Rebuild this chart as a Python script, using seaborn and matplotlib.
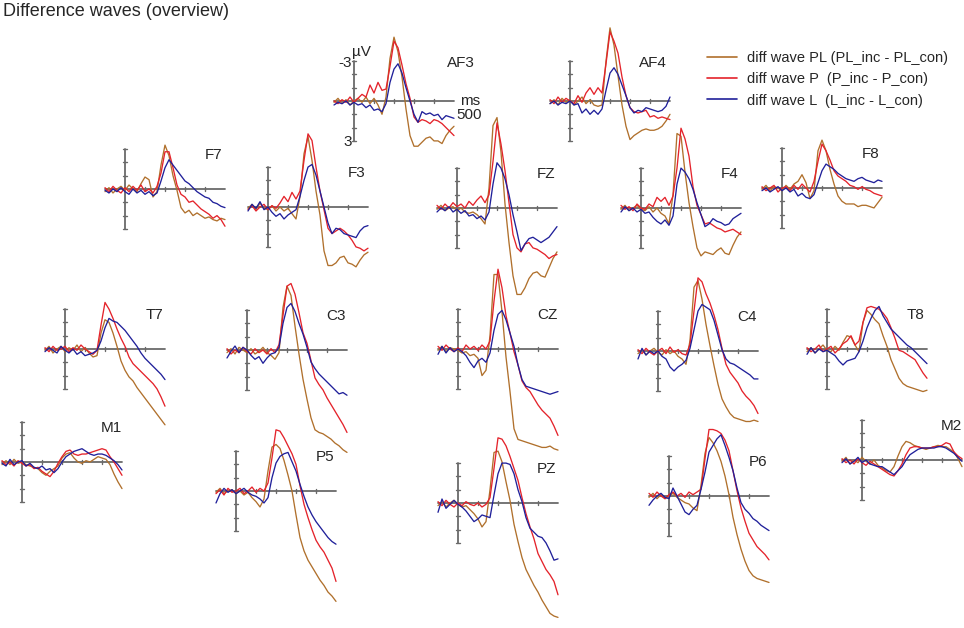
import pandas as pd
import matplotlib
matplotlib.use("Agg")
import matplotlib.pyplot as plt
import seaborn as sns
from matplotlib.lines import Line2D

sns.set_theme(style="white")
plt.rcParams['font.family'] = ['Liberation Sans', 'DejaVu Sans']

# time axis (ms), one sample every 20 ms
times = list(range(-100, 520, 20))
wave_names = ["diff wave PL (PL_inc - PL_con)",
              "diff wave P  (P_inc - P_con)",
              "diff wave L  (L_inc - L_con)"]

# amplitudes in µV (negative = up)
af3_pl = [0.1,-0.2,0.2,-0.1,0.3,0.0,-0.2,0.1,-0.3,0.2,-0.2,0.3,1.0,-0.3,-3.2,-4.8,-3.7,-1.8,0.6,2.6,3.4,3.4,3.1,2.8,2.7,3.0,3.0,3.2,2.6,2.2,1.9]
af3_p = [0.0,0.2,-0.1,0.1,-0.3,0.1,-0.2,-0.5,-0.3,-1.2,-0.6,-1.4,-0.8,-0.9,-2.6,-4.5,-4.0,-2.7,-1.3,-0.2,1.2,1.6,1.4,1.5,1.7,1.4,1.5,1.7,2.0,2.3,2.6]
af3_l = [0.3,0.1,0.2,0.0,0.3,0.1,0.3,0.2,0.5,0.3,0.7,0.6,0.8,0.2,-1.4,-2.4,-2.8,-2.1,-1.0,0.0,1.0,1.6,0.8,1.0,0.9,1.1,1.0,1.4,1.1,1.2,1.3]

af4_pl = [0.2,-0.1,0.3,-0.2,0.1,-0.1,0.3,0.0,-0.3,0.2,-0.1,0.3,0.4,0.3,-3.0,-5.5,-4.2,-1.9,0.3,1.9,2.9,2.6,2.4,2.2,2.1,2.2,2.2,2.1,1.9,1.5,1.0]
af4_p = [-0.1,0.2,-0.3,0.1,-0.2,0.0,0.2,-0.4,0.1,-0.6,-1.0,-0.5,-1.0,-0.6,-2.8,-5.2,-4.5,-3.6,-1.8,-0.4,0.5,0.8,0.9,0.8,0.7,1.2,1.1,1.3,1.2,1.3,1.4]
af4_l = [0.2,0.0,0.3,0.1,0.2,0.0,0.3,0.2,0.9,0.6,1.0,0.7,1.0,0.6,-0.8,-2.1,-2.5,-2.0,-1.2,-0.4,0.5,0.9,0.7,0.8,0.5,0.6,0.7,0.8,0.7,0.4,-0.3]

f7_pl = [0.2,-0.1,0.3,0.0,-0.2,0.1,-0.3,0.0,0.2,-0.4,-0.9,-0.7,0.6,0.2,-1.8,-3.3,-2.5,-1.0,0.1,1.4,1.8,1.6,2.0,1.8,2.0,2.2,2.1,2.3,2.4,2.2,2.3]
f7_p = [-0.1,0.2,-0.2,0.1,0.3,-0.1,0.2,-0.2,0.1,-0.3,0.2,0.0,0.3,-0.2,-1.2,-2.8,-2.8,-1.6,-0.3,0.4,0.6,1.0,0.9,1.2,1.5,1.7,1.9,2.2,2.0,2.3,2.8]
f7_l = [0.1,0.3,0.0,0.2,-0.1,0.2,0.4,0.0,0.3,0.1,0.4,0.2,0.5,0.3,-0.6,-1.6,-2.2,-1.8,-1.4,-1.0,-0.6,-0.4,-0.1,0.2,0.4,0.6,0.7,1.0,1.1,1.3,1.4]

f3_pl = [0.1,-0.2,0.2,-0.3,0.1,0.2,-0.1,0.3,0.0,0.3,0.1,0.5,0.9,-0.8,-4.0,-5.3,-3.5,-1.2,0.6,3.3,4.4,4.4,4.2,3.8,3.7,4.2,4.3,4.5,4.0,3.6,3.4]
f3_p = [0.2,-0.1,0.3,0.0,-0.2,0.2,-0.1,0.1,-0.3,-0.8,-0.4,-1.1,-0.6,-1.2,-3.5,-5.5,-5.0,-3.0,-1.2,0.2,1.6,2.0,1.8,1.6,1.8,2.1,2.5,3.0,3.1,3.3,3.1]
f3_l = [0.3,-0.2,0.1,-0.4,0.2,0.0,0.4,0.7,0.5,0.9,0.6,0.4,0.2,-0.8,-2.0,-3.0,-3.2,-2.4,-1.2,0.0,1.2,2.0,1.6,1.7,2.0,2.1,2.2,2.3,1.8,1.5,1.4]

fz_pl = [0.1,-0.2,0.2,0.0,-0.1,0.2,0.0,0.3,0.4,0.3,0.5,0.8,1.2,-1.5,-6.2,-6.8,-4.2,-0.3,2.6,5.1,6.5,6.5,6.0,5.3,4.9,4.8,5.1,5.2,4.5,3.8,3.3]
fz_p = [-0.2,0.1,-0.3,0.0,-0.4,-0.1,-0.3,0.0,-0.5,-0.2,-0.6,-0.9,-0.4,-1.0,-3.5,-6.4,-4.8,-2.8,-0.4,2.0,3.0,3.3,2.7,2.6,3.0,3.1,3.3,3.5,3.8,3.6,3.5]
fz_l = [0.3,0.0,0.2,-0.1,0.3,0.1,0.4,0.2,0.6,0.5,0.8,0.6,0.9,0.3,-1.8,-3.4,-3.0,-2.2,-1.0,0.5,1.8,3.2,2.7,2.3,2.2,2.4,2.6,2.4,2.2,1.8,1.4]

f4_pl = [0.1,-0.2,0.2,0.0,-0.2,0.1,0.2,-0.1,0.3,0.0,0.4,0.6,1.2,-1.0,-5.6,-5.4,-2.7,-0.4,1.4,3.0,3.6,3.3,3.4,3.5,3.2,3.0,3.4,3.5,2.8,2.2,1.8]
f4_p = [-0.2,0.1,-0.1,0.2,-0.3,0.0,0.1,-0.3,-0.1,-0.8,-0.5,-0.8,-0.2,-0.9,-3.0,-6.0,-5.2,-3.9,-1.6,-0.2,0.5,1.2,1.1,1.3,1.5,1.6,1.8,1.7,1.6,1.8,2.0]
f4_l = [0.3,-0.1,0.2,0.0,0.3,0.1,0.4,0.3,0.7,1.0,1.2,0.9,1.3,0.6,-1.8,-3.0,-2.7,-2.2,-1.4,-0.4,0.5,1.4,1.2,0.8,1.0,1.1,1.3,1.2,0.8,0.6,0.4]

f8_pl = [0.1,-0.2,0.2,-0.1,0.0,0.2,-0.2,0.1,-0.3,-0.5,-1.0,-0.4,0.8,0.2,-2.8,-3.6,-2.8,-1.4,-0.3,0.6,1.0,1.2,1.2,1.2,1.4,1.3,1.3,1.4,1.5,1.1,0.7]
f8_p = [-0.1,0.2,0.0,-0.2,0.3,0.0,-0.1,0.2,-0.2,0.1,-0.3,0.0,0.3,-0.5,-2.0,-3.3,-2.8,-2.1,-1.3,-0.9,-0.7,-0.5,-0.2,-0.1,0.1,-0.1,0.1,0.2,0.4,0.5,0.6]
f8_l = [0.2,0.0,0.3,0.1,-0.1,0.2,0.0,0.3,0.1,0.6,0.4,0.7,0.8,0.5,-0.4,-1.3,-1.8,-1.6,-1.4,-1.1,-0.9,-0.7,-0.6,-0.5,-0.7,-0.8,-0.6,-0.5,-0.4,-0.6,-0.5]

t7_pl = [0.1,-0.2,0.3,0.0,-0.2,0.2,-0.1,0.1,-0.3,0.2,-0.1,0.3,0.6,0.5,-1.2,-2.2,-2.0,-1.2,-0.2,0.9,1.6,2.1,2.4,2.9,3.3,3.7,4.1,4.5,4.9,5.3,5.7]
t7_p = [-0.1,0.2,-0.2,0.1,0.0,-0.2,0.2,-0.1,0.1,-0.3,0.0,0.2,0.4,0.1,-1.8,-3.5,-3.0,-2.3,-1.5,-0.8,-0.2,0.6,1.1,1.4,1.7,2.0,2.3,2.6,3.0,3.6,4.3]
t7_l = [0.2,-0.1,0.1,0.3,-0.2,0.1,0.3,0.0,0.4,0.2,0.5,0.4,0.3,0.1,-0.6,-1.6,-2.3,-2.1,-2.0,-1.7,-1.4,-1.0,-0.6,-0.2,0.3,0.7,1.0,1.3,1.6,1.9,2.3]

c3_pl = [0.2,-0.1,0.3,-0.2,0.0,0.2,-0.1,0.3,0.1,-0.2,0.2,0.4,0.7,0.2,-3.2,-4.8,-4.1,-1.8,0.3,2.2,3.7,5.1,6.0,6.2,6.3,6.5,6.7,7.0,7.2,7.5,7.7]
c3_p = [-0.1,0.3,0.0,0.2,-0.2,0.1,0.3,-0.1,0.2,0.0,0.3,-0.1,0.2,-0.4,-2.6,-4.8,-5.0,-4.2,-2.8,-1.3,-0.5,0.8,2.1,2.6,3.0,3.6,4.1,4.6,5.1,5.6,6.2]
c3_l = [0.6,0.1,-0.3,0.2,-0.2,0.0,0.4,0.7,0.5,1.0,0.6,0.3,0.2,-0.2,-2.0,-3.2,-3.5,-2.9,-2.0,-1.2,-0.2,0.9,1.4,1.8,2.1,2.4,2.7,3.0,3.3,3.2,3.4]

cz_pl = [0.1,-0.2,0.2,-0.1,0.0,0.1,0.3,0.2,0.5,0.4,0.7,2.0,1.6,-1.0,-5.6,-5.6,-2.8,0.6,3.2,6.0,6.8,6.9,7.0,7.1,7.2,7.3,7.4,7.4,7.3,7.5,7.6]
cz_p = [-0.2,0.1,-0.3,0.0,0.2,-0.1,0.2,-0.3,0.0,-0.2,0.1,-0.3,0.0,-0.6,-3.6,-6.0,-4.6,-2.5,-1.2,0.2,1.2,2.4,2.9,3.2,3.7,4.2,4.6,4.9,5.2,5.8,6.5]
cz_l = [0.4,-0.2,0.3,-0.1,0.2,0.0,0.2,0.5,1.0,1.4,0.9,0.7,1.0,0.3,-1.4,-2.6,-2.9,-2.2,-1.2,-0.2,1.2,2.3,2.8,2.9,3.0,3.1,3.2,3.3,3.4,3.3,3.2]

c4_pl = [0.2,-0.1,0.3,0.0,-0.2,0.1,0.3,-0.1,0.2,0.0,0.4,0.6,1.0,-0.8,-4.8,-5.3,-3.9,-2.0,-0.4,1.1,2.5,3.6,4.2,4.7,5.0,5.1,5.2,5.3,5.3,5.2,5.3]
c4_p = [-0.1,0.2,-0.2,0.1,0.3,0.0,-0.2,0.2,-0.3,0.1,-0.1,0.2,0.3,-0.5,-3.0,-5.5,-5.2,-4.3,-3.6,-2.7,-1.6,-0.2,1.0,1.6,2.0,2.4,3.0,3.4,3.7,4.1,4.7]
c4_l = [0.6,-0.2,0.3,0.0,0.2,0.0,0.4,0.6,1.2,1.5,1.2,1.0,0.7,-0.2,-1.6,-3.0,-3.5,-3.3,-3.1,-2.3,-1.2,-0.1,0.6,0.9,1.0,1.2,1.4,1.6,1.8,2.1,2.1]

t8_pl = [0.2,-0.1,0.3,0.0,-0.3,0.1,0.2,-0.2,0.1,-0.5,-1.0,-0.9,-0.3,0.2,-2.0,-2.9,-2.6,-2.2,-1.9,-1.0,-0.2,0.8,1.5,2.2,2.6,2.8,2.9,3.0,3.1,3.2,3.1]
t8_p = [-0.1,0.2,0.0,-0.3,0.2,0.0,-0.2,0.3,0.0,-0.4,-0.6,-1.0,-0.3,-0.6,-2.0,-3.1,-3.2,-3.1,-3.0,-2.7,-2.3,-1.6,-0.8,0.1,0.2,0.4,0.6,0.8,1.3,1.8,2.2]
t8_l = [0.4,-0.1,0.3,0.0,0.2,0.1,0.3,0.5,0.9,1.2,0.9,0.8,0.7,0.2,-0.6,-1.6,-2.3,-2.9,-3.2,-2.5,-2.0,-1.5,-1.2,-0.9,-0.6,-0.3,-0.1,0.2,0.5,0.8,1.1]

m1_pl = [0.2,-0.1,0.2,-0.2,0.1,0.0,0.2,0.3,0.4,0.5,0.8,1.0,0.7,0.5,0.3,-0.3,-0.6,-0.7,-0.3,0.0,0.1,-0.1,0.0,-0.2,-0.4,-0.3,-0.2,0.2,0.9,1.5,2.0]
m1_p = [-0.1,0.2,0.0,0.3,-0.1,0.1,0.3,0.2,0.5,0.4,0.7,0.9,1.1,0.7,0.1,-0.4,-0.8,-0.9,-0.6,-0.5,-0.6,-0.6,-0.7,-0.8,-0.9,-1.0,-0.9,-0.4,0.0,0.5,1.0]
m1_l = [0.1,0.3,-0.2,0.2,0.0,-0.1,0.3,0.1,0.4,0.5,0.3,0.6,0.5,0.8,0.5,0.0,-0.4,-0.6,-0.8,-0.9,-1.0,-0.8,-0.6,-0.5,-0.6,-0.6,-0.5,-0.3,-0.1,0.2,0.6]

p5_pl = [0.1,-0.2,0.2,0.0,-0.1,0.2,0.0,0.3,0.1,0.5,0.8,1.2,0.6,-1.5,-3.3,-3.5,-3.2,-2.3,-1.2,0.0,1.8,3.5,4.5,5.2,5.7,6.2,6.7,7.1,7.6,7.9,8.3]
p5_p = [0.2,-0.1,0.3,-0.2,0.1,0.0,-0.2,0.2,0.0,-0.3,0.1,-0.2,0.0,-0.6,-2.5,-4.6,-4.5,-4.0,-3.4,-2.8,-2.0,-0.4,1.0,2.0,2.9,3.7,4.2,4.6,5.2,5.8,6.8]
p5_l = [0.9,0.2,-0.2,0.1,-0.1,0.2,0.0,-0.2,0.1,0.3,0.4,0.6,0.9,0.5,-1.0,-2.1,-2.6,-2.8,-2.9,-2.2,-1.5,-0.5,0.4,1.2,1.8,2.3,2.7,3.1,3.5,3.8,4.0]

pz_pl = [0.2,-0.1,0.3,0.0,-0.2,0.1,0.3,0.2,0.5,0.8,1.2,1.8,1.4,-1.0,-3.8,-3.9,-3.1,-1.6,-0.2,1.6,2.9,4.1,5.0,5.6,6.2,6.7,7.3,7.8,8.3,8.5,8.6]
pz_p = [-0.1,0.2,-0.2,0.1,0.3,0.0,0.2,-0.1,0.1,0.2,0.0,0.3,0.1,-0.4,-2.6,-4.9,-4.8,-4.3,-3.5,-2.6,-1.7,-0.4,0.8,1.8,2.7,3.8,4.4,5.0,5.4,5.9,6.9]
pz_l = [0.7,-0.3,0.4,0.1,-0.2,0.1,0.3,0.6,1.0,1.4,1.2,0.9,1.0,1.1,-0.6,-2.2,-3.0,-3.0,-2.9,-2.2,-1.0,-0.1,1.1,1.9,2.2,2.5,2.6,3.0,3.6,4.3,4.2]

p6_pl = [0.1,-0.2,0.2,-0.1,0.2,0.0,-0.2,0.1,0.3,0.5,0.6,0.9,1.1,-0.8,-3.2,-4.4,-4.0,-3.4,-2.6,-1.5,-0.1,1.6,2.9,4.0,4.9,5.6,6.0,6.2,6.3,6.4,6.5]
p6_p = [-0.2,0.1,-0.3,0.0,0.2,-0.1,-0.3,0.0,-0.2,0.1,-0.3,-0.1,-0.3,-0.5,-2.8,-5.0,-5.0,-4.9,-4.7,-4.2,-3.4,-1.9,-0.4,0.9,1.9,2.8,3.3,3.8,4.1,4.4,4.8]
p6_l = [0.7,0.3,0.0,-0.2,0.1,0.2,-0.6,0.0,0.6,1.2,1.4,1.0,0.7,-0.5,-1.8,-3.3,-3.8,-4.3,-4.6,-3.8,-2.9,-1.9,-0.6,0.5,1.0,1.3,1.7,1.9,2.2,2.4,2.6]

m2_pl = [0.1,-0.2,0.3,0.0,0.2,-0.2,0.1,0.3,0.0,0.4,0.6,0.8,0.9,0.5,-0.3,-1.0,-1.4,-1.3,-1.1,-1.0,-0.9,-0.8,-0.9,-1.0,-1.1,-1.0,-1.0,-0.8,-0.6,-0.1,0.5]
m2_p = [-0.1,0.2,0.0,0.3,-0.1,0.2,0.4,0.1,0.3,0.5,0.7,0.9,1.1,1.2,0.8,0.3,-0.4,-0.9,-1.0,-1.0,-0.9,-0.9,-0.9,-1.0,-1.0,-1.1,-1.3,-1.2,-0.6,-0.3,-0.1]
m2_l = [0.2,-0.1,0.3,0.1,-0.2,0.2,0.0,0.3,0.4,0.5,0.5,0.7,0.9,1.1,0.8,0.5,0.0,-0.4,-0.6,-0.8,-0.9,-0.9,-0.9,-0.9,-1.0,-1.0,-0.9,-0.7,-0.5,-0.2,0.1]

electrodes = ["AF3", "AF4", "F7", "F3", "FZ", "F4", "F8", "T7", "C3", "CZ",
              "C4", "T8", "M1", "P5", "PZ", "P6", "M2"]
waves = {
    "AF3": (af3_pl, af3_p, af3_l), "AF4": (af4_pl, af4_p, af4_l),
    "F7": (f7_pl, f7_p, f7_l), "F3": (f3_pl, f3_p, f3_l),
    "FZ": (fz_pl, fz_p, fz_l), "F4": (f4_pl, f4_p, f4_l),
    "F8": (f8_pl, f8_p, f8_l), "T7": (t7_pl, t7_p, t7_l),
    "C3": (c3_pl, c3_p, c3_l), "CZ": (cz_pl, cz_p, cz_l),
    "C4": (c4_pl, c4_p, c4_l), "T8": (t8_pl, t8_p, t8_l),
    "M1": (m1_pl, m1_p, m1_l), "P5": (p5_pl, p5_p, p5_l),
    "PZ": (pz_pl, pz_p, pz_l), "P6": (p6_pl, p6_p, p6_l),
    "M2": (m2_pl, m2_p, m2_l),
}

# layout: pixel position of (0 ms, 0 µV) for each electrode panel
origins = {
    "AF3": (354, 101), "AF4": (570, 101),
    "F7": (125, 189), "F3": (268, 207), "FZ": (457, 208), "F4": (641, 208), "F8": (782, 188),
    "T7": (65, 349), "C3": (247, 350), "CZ": (458, 349), "C4": (658, 351), "T8": (827, 349),
    "M1": (22, 462), "P5": (236, 491), "PZ": (458, 503), "P6": (669, 496), "M2": (862, 460),
}
label_offsets = {"AF3": (107, -38), "AF4": (83, -38)}

W, H = 964, 628
PX_MS = 0.2      # pixels per ms
PX_UV = 13.3     # pixels per µV
T0, T1 = -110, 510
V_TOP, V_BOT = -8.0, 10.0

colors = dict(zip(wave_names, ["#B0702C", "#E4232B", "#20209A"]))
axis_col = "#6a6a6a"

fig = plt.figure(figsize=(W / 100, H / 100), dpi=100)

for name in electrodes:
    ox, oy = origins[name]
    left = ox + T0 * PX_MS
    top = oy + V_TOP * PX_UV
    bottom = oy + V_BOT * PX_UV
    ax = fig.add_axes([left / W, 1 - bottom / H, (T1 - T0) * PX_MS / W, (bottom - top) / H])
    ax.set_xlim(T0, T1)
    ax.set_ylim(V_BOT, V_TOP)
    ax.axis("off")

    # hand-drawn style axes: time axis at 0 µV, amplitude axis at 0 ms
    ax.plot([-100, 500], [0, 0], color=axis_col, lw=1.3, zorder=1)
    ax.plot([0, 0], [-3, 3], color=axis_col, lw=1.3, zorder=1)
    for t in [100, 200, 300, 400]:
        ax.plot([t, t], [-0.16, 0.16], color=axis_col, lw=1.0, zorder=1)
    for v in [-3, -2, -1, 1, 2, 3]:
        ax.plot([-10, 10], [v, v], color=axis_col, lw=1.0, zorder=1)

    pl, p, l = waves[name]
    df = pd.DataFrame({
        "time": times * 3,
        "uV": pl + p + l,
        "wave": [wave_names[0]] * len(times) + [wave_names[1]] * len(times) + [wave_names[2]] * len(times),
    })
    sns.lineplot(data=df, x="time", y="uV", hue="wave", hue_order=wave_names,
                 palette=colors, estimator=None, sort=False, legend=False,
                 linewidth=0.95, ax=ax, zorder=2)
    for line in ax.get_lines():
        line.set_clip_on(False)

    dx, dy = label_offsets.get(name, (89, -34))
    ax.text(dx / PX_MS, dy / PX_UV, name, ha="center", va="center", fontsize=11)

    if name == "AF3":
        ax.text(35, -3.7, "µV", ha="center", va="center", fontsize=11)
        ax.text(-12, -2.85, "-3", ha="right", va="center", fontsize=11)
        ax.text(-12, 3.05, "3", ha="right", va="center", fontsize=11)
        ax.text(580, 0.0, "ms", ha="center", va="center", fontsize=11)
        ax.text(575, 1.05, "500", ha="center", va="center", fontsize=11)

fig.text(3 / W, 1 - 12 / H, "Difference waves (overview)", ha="left", va="center", fontsize=13)

handles = [Line2D([0], [0], color=colors[n], lw=1.2) for n in wave_names]
fig.legend(handles, wave_names, loc="upper left", bbox_to_anchor=(707 / W, 1 - 51 / H),
           frameon=False, fontsize=10.5, handlelength=2.05, handletextpad=0.7,
           labelspacing=0.5, borderpad=0, borderaxespad=0)

fig.savefig("out.png", dpi=100)
